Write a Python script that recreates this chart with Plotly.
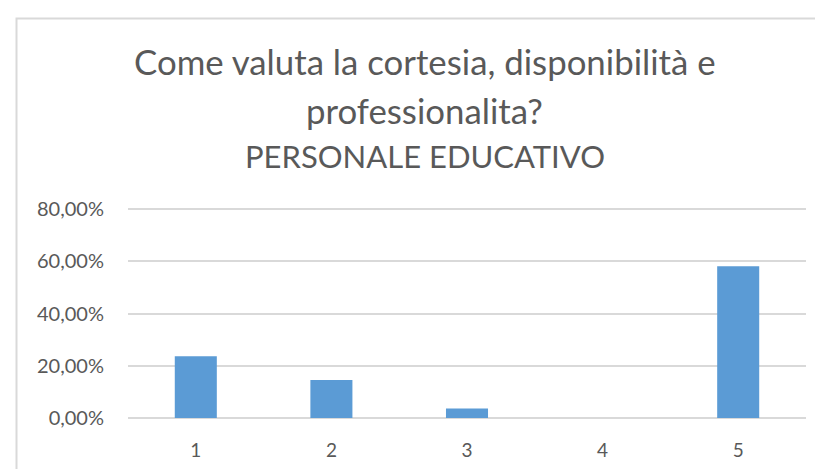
import plotly.graph_objects as go

categories = ["1", "2", "3", "4", "5"]
values = [0.236, 0.145, 0.036, 0.0, 0.581]
y_ticks = [0, 0.2, 0.4, 0.6, 0.8]
title_lines = ["Come valuta la cortesia, disponibilità e", "professionalita?", "PERSONALE EDUCATIVO"]

W, H = 815, 469
L, R, T, B = 128, 9, 206, 51
pw, ph = W - L - R, H - T - B
y_top = 0.8 * ph / 209.0  # keeps 80% gridline 3px inside the plot area

def px_x(x):
    return (x - L) / pw

def px_y(y):
    return (H - B - y) / ph

FONT = "Lato"
GRAY = "#595959"
GRID = "#d9d9d9"

fig = go.Figure()
fig.add_trace(go.Bar(
    x=categories, y=values,
    marker=dict(color="#5B9BD5", line=dict(width=0)),
    width=0.31,
))

title_sizes = [34.8, 34.8, 31]
title_mid_y = [62, 110, 155.5]
for txt, sz, my in zip(title_lines, title_sizes, title_mid_y):
    fig.add_annotation(
        text=txt, xref="paper", yref="paper",
        x=px_x(424.5), y=px_y(my), xanchor="center", yanchor="middle",
        showarrow=False, font=dict(family=FONT, size=sz, color=GRAY),
    )

# chart area border
fig.add_shape(type="rect", xref="paper", yref="paper",
              x0=px_x(16.5), x1=px_x(833), y0=px_y(520), y1=px_y(18.5),
              line=dict(color=GRID, width=2), fillcolor="rgba(0,0,0,0)", layer="below")

fig.update_layout(
    width=W, height=H,
    margin=dict(l=L, r=R, t=T, b=B, pad=0),
    paper_bgcolor="white", plot_bgcolor="white",
    separators=",.",
    showlegend=False,
    font=dict(family=FONT, color=GRAY),
    xaxis=dict(
        type="category", showgrid=False, showline=False, zeroline=False,
        tickfont=dict(family=FONT, size=19, color=GRAY),
        ticks="", ticklabelstandoff=19,
    ),
    yaxis=dict(
        range=[0, y_top], tickvals=y_ticks, tickformat=".2%",
        showgrid=True, gridcolor=GRID, gridwidth=1.5,
        zeroline=True, zerolinecolor=GRID, zerolinewidth=1.5,
        showline=False, ticks="",
        tickfont=dict(family=FONT, size=20, color=GRAY),
        ticklabelstandoff=23,
    ),
)

fig.write_html("out.html")
